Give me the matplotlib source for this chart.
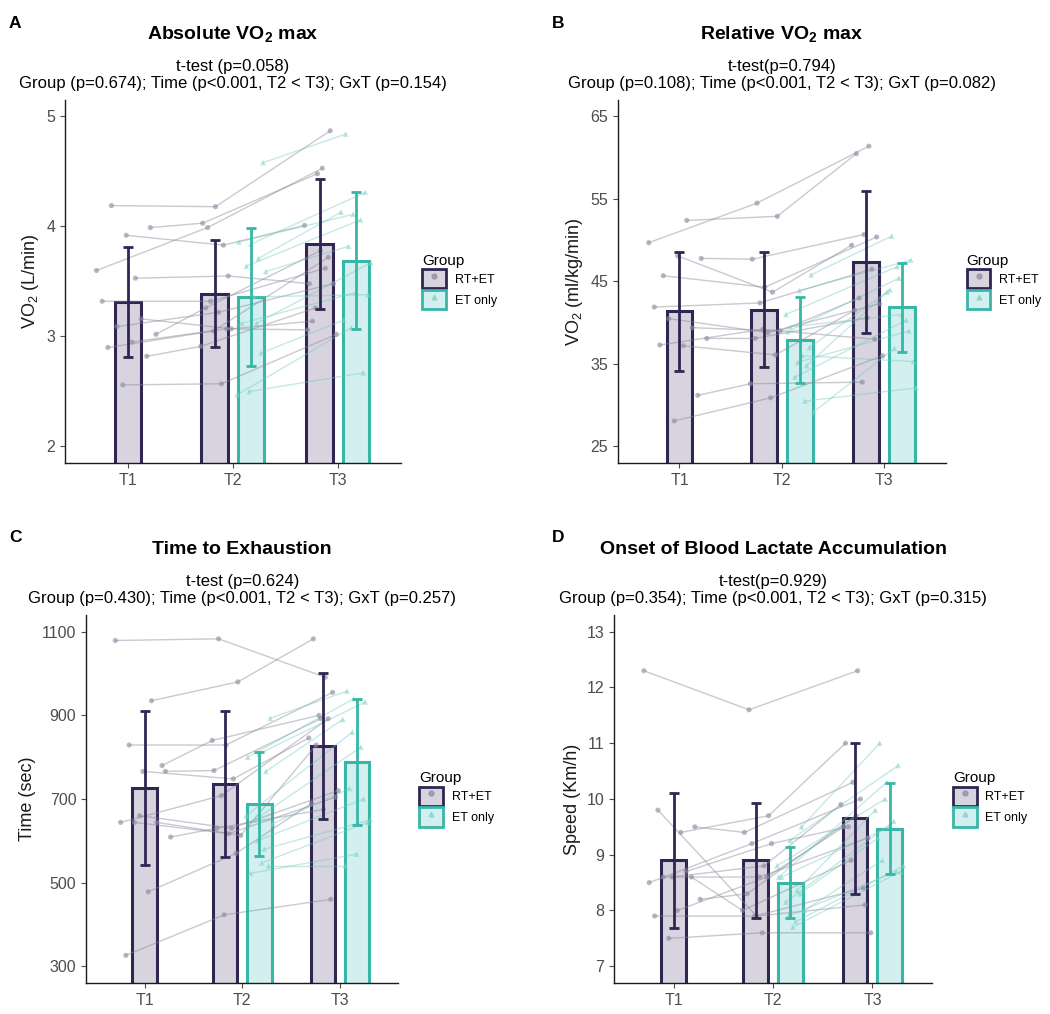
import matplotlib
matplotlib.use("Agg")
import matplotlib.pyplot as plt
import numpy as np
from matplotlib.patches import Patch
from matplotlib.lines import Line2D

plt.rcParams["font.family"] = ["Liberation Sans", "DejaVu Sans"]
plt.rcParams["mathtext.fontset"] = "custom"
plt.rcParams["mathtext.rm"] = "Liberation Sans"
plt.rcParams["mathtext.it"] = "Liberation Sans:italic"
plt.rcParams["mathtext.bf"] = "Liberation Sans:bold"

# ---- data ---------------------------------------------------------------
TIMES = ["T1", "T2", "T3"]
GROUPS = ["RT+ET", "ET only"]

# panel A: absolute VO2 max (L/min)
A_RT_T1 = [3.60, 3.53, 4.19, 3.99, 3.92, 3.32, 3.16, 3.09, 3.02, 2.95, 2.90, 2.82, 2.56]
A_RT_T2 = [3.99, 3.55, 4.18, 4.03, 3.83, 3.32, 3.07, 3.22, 3.26, 3.07, 3.05, 2.91, 2.57]
A_RT_T3 = [4.53, 3.48, 4.87, 4.48, 4.01, 3.62, 3.14, 3.48, 3.78, 3.06, 3.72, 3.26, 3.02]
A_ET_T2 = [4.58, 3.84, 3.86, 3.71, 3.64, 3.59, 3.36, 3.12, 2.85, 2.50, 2.47, 3.12]
A_ET_T3 = [4.84, 4.31, 4.11, 4.13, 4.06, 3.82, 3.38, 3.40, 3.15, 2.67, 3.08, 3.67]
A_RT_MEAN = [3.31, 3.39, 3.84]
A_RT_SD = [0.50, 0.49, 0.59]
A_ET_MEAN = [3.36, 3.69]
A_ET_SD = [0.63, 0.62]

# panel B: relative VO2 max (ml/kg/min)
B_RT_T1 = [49.7, 52.4, 45.7, 47.8, 48.1, 41.9, 39.4, 40.5, 38.1, 37.2, 37.3, 31.2, 28.1]
B_RT_T2 = [54.5, 52.9, 44.3, 47.7, 43.7, 42.4, 39.0, 38.8, 38.1, 36.1, 39.2, 32.6, 30.9]
B_RT_T3 = [61.4, 60.5, 50.4, 50.7, 49.4, 46.5, 43.0, 42.3, 40.6, 41.5, 38.0, 32.8, 36.0]
B_ET_T2 = [45.8, 43.9, 38.9, 34.8, 33.4, 29.2, 36.0, 39.5, 37.0, 35.2, 41.0, 30.5]
B_ET_T3 = [50.5, 47.6, 45.4, 43.7, 40.3, 36.9, 35.3, 41.0, 44.0, 39.0, 46.8, 32.1]
B_RT_MEAN = [41.4, 41.6, 47.4]
B_RT_SD = [7.2, 7.0, 8.6]
B_ET_MEAN = [37.9, 41.9]
B_ET_SD = [5.2, 5.4]

# panel C: time to exhaustion (sec)
C_RT_T1 = [1079, 935, 829, 766, 766, 644, 644, 644, 609, 478, 326, 780, 660]
C_RT_T2 = [1083, 980, 829, 768, 748, 708, 613, 617, 630, 570, 423, 840, 630]
C_RT_T3 = [991, 1083, 955, 892, 846, 892, 829, 704, 675, 690, 460, 900, 720]
C_ET_T2 = [893, 808, 800, 766, 650, 641, 547, 522, 540, 600, 660, 580]
C_ET_T3 = [958, 932, 940, 890, 824, 725, 644, 568, 540, 700, 860, 650]
C_RT_MEAN = [726, 736, 826]
C_RT_SD = [185, 175, 175]
C_ET_MEAN = [688, 788]
C_ET_SD = [125, 150]

# panel D: onset of blood lactate accumulation (km/h)
D_RT_T1 = [12.3, 9.4, 9.8, 9.5, 8.6, 8.5, 8.7, 8.6, 8.2, 8.0, 7.9, 8.6, 7.5]
D_RT_T2 = [11.6, 9.7, 7.9, 9.4, 8.8, 9.2, 9.2, 8.6, 8.3, 8.6, 7.9, 8.0, 7.6]
D_RT_T3 = [12.3, 11.0, 8.1, 10.3, 9.9, 10.0, 9.5, 9.3, 9.7, 9.5, 8.4, 8.9, 7.6]
D_ET_T2 = [9.5, 9.26, 8.6, 8.36, 8.15, 8.0, 7.7, 8.6, 8.3, 7.9, 8.8, 7.8]
D_ET_T3 = [11.0, 10.6, 10.3, 9.8, 9.6, 8.9, 8.7, 9.5, 9.3, 8.7, 10.0, 8.8]
D_RT_MEAN = [8.9, 8.9, 9.65]
D_RT_SD = [1.21, 1.03, 1.35]
D_ET_MEAN = [8.5, 9.47]
D_ET_SD = [0.64, 0.81]

# ---- style ---------------------------------------------------------------
PURPLE = "#2f2652"
PURPLE_FILL = "#d7d3df"
TEAL = "#38b6a7"
TEAL_FILL = "#d3efef"
RT_LINE = "#8b879a"
ET_LINE = "#6fcabd"
RT_PT = "#8e89a0"
ET_PT = "#82d2c6"
TICK_GREY = "#4d4d4d"

BAR_W = 0.25
DODGE = 0.175


def jitter(n, k, spread):
    # deterministic spread of points around the bar centre
    idx = np.arange(n)
    return ((idx * 0.618 + k * 0.29) % 1.0 - 0.5) * 2 * spread


def draw_panel(ax, rt, et, rt_mean, rt_sd, et_mean, et_sd, yticks, ylabel,
               title, sub1, sub2):
    x = np.arange(1, 4)
    rt_x = np.array([1.0, 2 - DODGE, 3 - DODGE])
    et_x = np.array([2 + DODGE, 3 + DODGE])

    ax.bar(rt_x, rt_mean, width=BAR_W, color=PURPLE_FILL, edgecolor=PURPLE,
           linewidth=2.2, zorder=1)
    ax.bar(et_x, et_mean, width=BAR_W, color=TEAL_FILL, edgecolor=TEAL,
           linewidth=2.2, zorder=1)

    # individual trajectories
    rt_arr = np.array(rt)
    n = rt_arr.shape[1]
    xs_rt = np.vstack([rt_x[0] + jitter(n, 0, 0.3),
                       rt_x[1] + jitter(n, 1, 0.16),
                       rt_x[2] + jitter(n, 2, 0.16)])
    for i in range(n):
        ax.plot(xs_rt[:, i], rt_arr[:, i], color=RT_LINE, lw=1.0, alpha=0.45,
                zorder=2)
    ax.scatter(xs_rt.ravel(), rt_arr.ravel(), s=14, color=RT_PT, alpha=0.6,
               edgecolor="none", zorder=2.5)

    et_arr = np.array(et)
    m = et_arr.shape[1]
    xs_et = np.vstack([et_x[0] + jitter(m, 3, 0.15),
                       et_x[1] + jitter(m, 4, 0.15)])
    for i in range(m):
        ax.plot(xs_et[:, i], et_arr[:, i], color=ET_LINE, lw=1.0, alpha=0.4,
                zorder=2)
    ax.scatter(xs_et.ravel(), et_arr.ravel(), s=16, marker="^", color=ET_PT,
               alpha=0.55, edgecolor="none", zorder=2.5)

    ax.errorbar(rt_x, rt_mean, yerr=rt_sd, fmt="none", ecolor=PURPLE,
                elinewidth=2.0, capsize=3.5, capthick=2.0, zorder=3)
    ax.errorbar(et_x, et_mean, yerr=et_sd, fmt="none", ecolor=TEAL,
                elinewidth=2.0, capsize=3.5, capthick=2.0, zorder=3)

    lo, hi = yticks[0], yticks[-1]
    pad = (hi - lo) * 0.05
    ax.set_ylim(lo - pad, hi + pad)
    ax.set_xlim(0.4, 3.6)
    ax.set_yticks(yticks)
    ax.set_xticks(x)
    ax.set_xticklabels(TIMES)
    ax.tick_params(colors=TICK_GREY, labelsize=11.5, length=3.5, width=0.8,
                   labelcolor=TICK_GREY)
    ax.set_ylabel(ylabel, fontsize=13, color="#1a1a1a")
    for s in ["top", "right"]:
        ax.spines[s].set_visible(False)
    for s in ["left", "bottom"]:
        ax.spines[s].set_linewidth(1.0)
        ax.spines[s].set_color("#1a1a1a")

    ax.annotate(title, xy=(0.5, 1), xycoords="axes fraction",
                xytext=(0, 47.5), textcoords="offset points", ha="center",
                va="center", fontsize=14, fontweight="bold")
    ax.annotate(sub1, xy=(0.5, 1), xycoords="axes fraction",
                xytext=(0, 24), textcoords="offset points", ha="center",
                va="center", fontsize=12)
    ax.annotate(sub2, xy=(0.5, 1), xycoords="axes fraction",
                xytext=(0, 12), textcoords="offset points", ha="center",
                va="center", fontsize=12)

    handles = [
        (Patch(facecolor=PURPLE_FILL, edgecolor=PURPLE, linewidth=2.0),
         Line2D([], [], marker="o", ls="", color=RT_PT, ms=3.5, alpha=0.7)),
        (Patch(facecolor=TEAL_FILL, edgecolor=TEAL, linewidth=2.0),
         Line2D([], [], marker="^", ls="", color=ET_PT, ms=3.5, alpha=0.7)),
    ]
    leg = ax.legend(handles, GROUPS, title="Group", loc="center left",
                    bbox_to_anchor=(1.03, 0.5), frameon=False, fontsize=9,
                    title_fontsize=11, handlelength=1.9, handleheight=2.0,
                    labelspacing=0.12, handletextpad=0.7)
    leg._legend_box.align = "left"


fig = plt.figure(figsize=(10.5, 10.14), dpi=100)
axA = fig.add_axes([0.0619, 0.5434, 0.3200, 0.3580])
axB = fig.add_axes([0.5886, 0.5434, 0.3120, 0.3580])
axC = fig.add_axes([0.0819, 0.0306, 0.2976, 0.3629])
axD = fig.add_axes([0.5848, 0.0306, 0.3029, 0.3629])

draw_panel(axA, [A_RT_T1, A_RT_T2, A_RT_T3], [A_ET_T2, A_ET_T3],
           A_RT_MEAN, A_RT_SD, A_ET_MEAN, A_ET_SD, [2, 3, 4, 5],
           "VO$_2$ (L/min)", "Absolute VO$_\\mathbf{2}$ max",
           "t-test (p=0.058)",
           "Group (p=0.674); Time (p<0.001, T2 < T3); GxT (p=0.154)")
draw_panel(axB, [B_RT_T1, B_RT_T2, B_RT_T3], [B_ET_T2, B_ET_T3],
           B_RT_MEAN, B_RT_SD, B_ET_MEAN, B_ET_SD, [25, 35, 45, 55, 65],
           "VO$_2$ (ml/kg/min)", "Relative VO$_\\mathbf{2}$ max",
           "t-test(p=0.794)",
           "Group (p=0.108); Time (p<0.001, T2 < T3); GxT (p=0.082)")
draw_panel(axC, [C_RT_T1, C_RT_T2, C_RT_T3], [C_ET_T2, C_ET_T3],
           C_RT_MEAN, C_RT_SD, C_ET_MEAN, C_ET_SD, [300, 500, 700, 900, 1100],
           "Time (sec)", "Time to Exhaustion",
           "t-test (p=0.624)",
           "Group (p=0.430); Time (p<0.001, T2 < T3); GxT (p=0.257)")
draw_panel(axD, [D_RT_T1, D_RT_T2, D_RT_T3], [D_ET_T2, D_ET_T3],
           D_RT_MEAN, D_RT_SD, D_ET_MEAN, D_ET_SD, [7, 8, 9, 10, 11, 12, 13],
           "Speed (Km/h)", "Onset of Blood Lactate Accumulation",
           "t-test(p=0.929)",
           "Group (p=0.354); Time (p<0.001, T2 < T3); GxT (p=0.315)")

for lab, (px, py) in zip("ABCD", [(15, 23), (558, 23), (15, 538), (558, 538)]):
    fig.text(px / 1050, 1 - py / 1014, lab, fontsize=12.5, fontweight="bold",
             ha="center", va="center")

fig.savefig("out.png", dpi=100)
